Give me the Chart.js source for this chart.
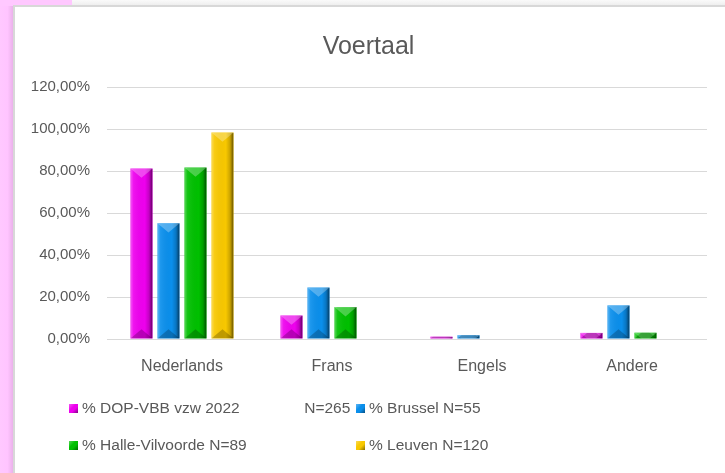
<!DOCTYPE html>
<html>
<head>
<meta charset="utf-8">
<script src="https://cdn.jsdelivr.net/npm/chart.js@4.4.1/dist/chart.umd.min.js"></script>
<style>
  html, body { margin: 0; padding: 0; width: 725px; height: 473px; overflow: hidden; background: #ffffff; font-family: "Liberation Sans", Arial, sans-serif; }
  #pinkLeft { position: absolute; left: 0; top: 0; width: 14px; height: 473px; background: linear-gradient(to right, #ffc8ff 0%, #ffc4ff 55%, #e6aee6 100%); }
  #pinkTop { position: absolute; left: 0; top: 0; width: 72px; height: 6px; background: #ffc8ff; }
  #greyTop { position: absolute; left: 72px; top: 0; width: 653px; height: 6px; background: linear-gradient(to bottom, #fafafa, #ececec); }
  #box { position: absolute; left: 13px; top: 5px; width: 712px; height: 468px; background: #fff; border-left: 2px solid #d8d8d8; border-top: 2px solid #d8d8d8; box-sizing: border-box; }
  #wrap { position: absolute; left: 30px; top: 7px; width: 695px; height: 466px; }
  #legend { position: absolute; left: 0; top: 0; width: 725px; height: 473px; pointer-events: none; }
  .item { position: absolute; display: flex; align-items: center; font-size: 15.5px; color: #595959; white-space: pre; }
  .sw { width: 9px; height: 9px; margin-right: 4px; }
</style>
</head>
<body>
<div id="pinkLeft"></div>
<div id="pinkTop"></div>
<div id="greyTop"></div>
<div id="box"></div>
<div id="wrap"><canvas id="c" width="695" height="466"></canvas></div>
<div id="legend"></div>
<script>
// ---- data ----
const categories = ['Nederlands', 'Frans', 'Engels', 'Andere'];
const seriesNames = ['% DOP-VBB vzw 2022               N=265', '% Brussel N=55', '% Halle-Vilvoorde N=89', '% Leuven N=120'];
const dopVbb = [81.2, 11.2, 1.1, 2.9];
const brussel = [55.1, 24.5, 1.8, 16.0];
const halleVilvoorde = [81.7, 15.2, 0, 3.0];
const leuven = [98.3, 0, 0, 0];
const yTickLabels = ['0,00%', '20,00%', '40,00%', '60,00%', '80,00%', '100,00%', '120,00%'];
const colors = ['#ee00ee', '#0a8fec', '#00c000', '#f8c800'];

const seriesValues = [dopVbb, brussel, halleVilvoorde, leuven];
const TXT = '#595959';
const FONT = "'Liberation Sans', Arial, sans-serif";

const bevel = {
  id: 'bevel',
  afterDatasetsDraw(chart) {
    const ctx = chart.ctx;
    chart.data.datasets.forEach((ds, i) => {
      const meta = chart.getDatasetMeta(i);
      if (meta.hidden) return;
      meta.data.forEach(bar => {
        const p = bar.getProps(['x', 'y', 'base', 'width'], true);
        const l = p.x - p.width / 2, r = p.x + p.width / 2;
        const t = Math.min(p.y, p.base), b = Math.max(p.y, p.base);
        const h = b - t;
        if (h < 0.5) return;
        ctx.save();
        ctx.beginPath(); ctx.rect(l, t, p.width, h); ctx.clip();
        const g = ctx.createLinearGradient(l, 0, r, 0);
        g.addColorStop(0, 'rgba(255,255,255,0.35)');
        g.addColorStop(0.14, 'rgba(255,255,255,0.08)');
        g.addColorStop(0.65, 'rgba(0,0,0,0)');
        g.addColorStop(0.84, 'rgba(0,0,0,0.18)');
        g.addColorStop(1, 'rgba(0,0,0,0.6)');
        ctx.fillStyle = g; ctx.fillRect(l, t, p.width, h);
        const d = p.width * 0.42;
        ctx.beginPath(); ctx.moveTo(l, t); ctx.lineTo(r, t); ctx.lineTo(p.x, t + d); ctx.closePath();
        ctx.fillStyle = 'rgba(255,255,255,0.28)'; ctx.fill();
        ctx.beginPath(); ctx.moveTo(l, b); ctx.lineTo(r, b); ctx.lineTo(p.x, b - d); ctx.closePath();
        ctx.fillStyle = 'rgba(0,0,0,0.22)'; ctx.fill();
        ctx.restore();
      });
    });
  }
};

const chart = new Chart(document.getElementById('c'), {
  type: 'bar',
  data: {
    labels: categories,
    datasets: seriesValues.map((vals, i) => ({
      label: seriesNames[i],
      data: vals,
      backgroundColor: colors[i],
      borderWidth: 0,
      categoryPercentage: 0.72,
      barPercentage: 0.82
    }))
  },
  options: {
    responsive: false,
    animation: false,
    layout: { padding: { left: 0, right: 18, top: 0, bottom: 0 } },
    plugins: {
      legend: { display: false },
      tooltip: { enabled: false },
      title: {
        display: true,
        text: 'Voertaal',
        color: TXT,
        font: { family: FONT, size: 25, weight: 'normal', lineHeight: 1.2 },
        padding: { top: 25, bottom: 25 }
      }
    },
    scales: {
      x: {
        grid: { display: false, drawTicks: false },
        border: { display: false },
        ticks: { color: TXT, font: { family: FONT, size: 16 }, padding: 18 },
        afterFit(scale) { scale.height = 134; }
      },
      y: {
        min: 0, max: 120,
        ticks: {
          stepSize: 20,
          color: TXT,
          font: { family: FONT, size: 15 },
          padding: 17,
          callback: (v) => yTickLabels[Math.round(v / 20)]
        },
        grid: { color: '#d9d9d9', lineWidth: 1, drawTicks: false },
        border: { display: false },
        afterFit(scale) { scale.width = 77; }
      }
    }
  },
  plugins: [bevel]
});

// HTML legend built from the chart's datasets
const legendPos = [[69, 408], [356, 408], [69, 445], [356, 445]];
const legend = document.getElementById('legend');
chart.data.datasets.forEach((ds, i) => {
  const it = document.createElement('div');
  it.className = 'item';
  it.style.left = legendPos[i][0] + 'px';
  it.style.top = (legendPos[i][1] - 9) + 'px';
  it.style.height = '18px';
  const sw = document.createElement('span');
  sw.className = 'sw';
  const c = ds.backgroundColor;
  sw.style.background = `linear-gradient(135deg, rgba(255,255,255,0.35), rgba(255,255,255,0) 40%, rgba(0,0,0,0) 60%, rgba(0,0,0,0.45)), ${c}`;
  const tx = document.createElement('span');
  tx.textContent = ds.label;
  it.appendChild(sw); it.appendChild(tx);
  legend.appendChild(it);
});
</script>
</body>
</html>
